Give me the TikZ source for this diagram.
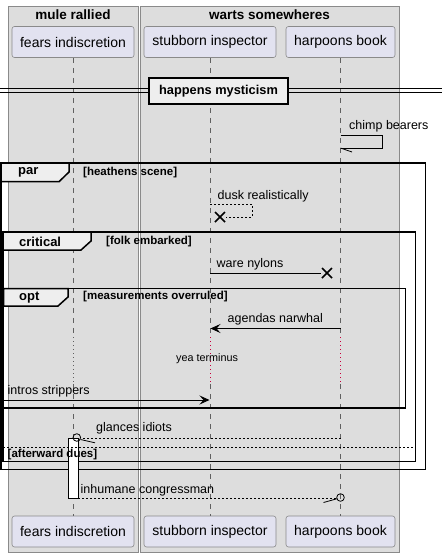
\documentclass[tikz,border=0pt]{standalone}
\usepackage{fontspec}
\setmainfont{Liberation Sans}
\usetikzlibrary{arrows.meta}
\definecolor{boxbg}{HTML}{DDDDDD}
\definecolor{boxbd}{HTML}{8A8A8A}
\definecolor{partbg}{HTML}{E2E2F0}
\definecolor{partbd}{HTML}{8A8A8A}
\definecolor{tabbg}{HTML}{EEEEEE}
\definecolor{delayred}{HTML}{C8003C}
\definecolor{lifec}{HTML}{606060}
\begin{document}
\begin{tikzpicture}[x=1pt,y=-1pt,
  grp/.style={draw=boxbd, fill=boxbg, line width=0.6pt},
  grptitle/.style={font=\bfseries\fontsize{13.5}{15}\selectfont, inner sep=0},
  part/.style={draw=partbd, fill=partbg, rounded corners=2.5pt, minimum height=31pt, inner sep=0, line width=0.6pt, font=\fontsize{14}{16}\selectfont},
  msg/.style={font=\fontsize{12.5}{14}\selectfont, inner sep=0, anchor=west},
  life/.style={draw=lifec, dash pattern=on 5pt off 5pt, line width=0.5pt},
  delaygray/.style={draw=lifec, dash pattern=on 1pt off 3pt, line width=0.6pt},
  delayredl/.style={draw=delayred, dash pattern=on 1pt off 3pt, line width=0.6pt},
  frm/.style={draw=black, line width=1.5pt},
  tabshape/.style={draw=black, fill=tabbg, line width=1.5pt},
  tablabel/.style={font=\bfseries\fontsize{13}{15}\selectfont, inner sep=0, anchor=west},
  cond/.style={font=\bfseries\fontsize{11.5}{13}\selectfont, inner sep=0, anchor=west},
  sync/.style={-{Stealth[length=10pt,width=9pt,inset=4pt]}, line width=0.8pt},
  plain/.style={line width=0.8pt},
  dotl/.style={dash pattern=on 2pt off 2pt, line width=0.8pt},
  xmark/.style={line width=1.6pt}
]
\useasboundingbox (0,0) rectangle (442,557);
\fill[white] (0,0) rectangle (442,557);

% participant group boxes
\draw[grp] (8,6) rectangle (138,552);
\draw[grp] (140,6) rectangle (399,552);
\node[grptitle] (g1) at (73,15) {mule rallied};
\node[grptitle] (g2) at (269.5,15) {warts somewheres};

% participants
\node[part, minimum width=122pt] (fi) at (73,42) {fears indiscretion};
\node[part, minimum width=132pt] (si) at (210,42) {stubborn inspector};
\node[part, minimum width=109pt] (hb) at (340.5,42) {harpoons book};
\node[part, minimum width=122pt] (fib) at (73,531.5) {fears indiscretion};
\node[part, minimum width=132pt] (sib) at (210,531.5) {stubborn inspector};
\node[part, minimum width=109pt] (hbb) at (340.5,531.5) {harpoons book};

% delay coordinates
\coordinate (fiA) at (73,337); \coordinate (fiB) at (73,384);
\coordinate (siA) at (210,337); \coordinate (siB) at (210,384);
\coordinate (hbA) at (340.5,337); \coordinate (hbB) at (340.5,384);

% lifelines
\draw[life] (fi.south) -- (fiA);
\draw[delaygray] (fiA) -- (fiB);
\draw[life] (fiB) -- (fib.north);
\draw[life] (si.south) -- (siA);
\draw[delayredl] (siA) -- (siB);
\draw[life] (siB) -- (sib.north);
\draw[life] (hb.south) -- (hbA);
\draw[delayredl] (hbA) -- (hbB);
\draw[life] (hbB) -- (hbb.north);

% divider
\coordinate (dl1) at (0,88.5); \coordinate (dr1) at (442,88.5);
\coordinate (dl2) at (0,92.5); \coordinate (dr2) at (442,92.5);
\draw[line width=0.9pt] (dl1) -- (dr1);
\draw[line width=0.9pt] (dl2) -- (dr2);
\node[draw=black, fill=tabbg, line width=1.6pt, minimum width=139pt, minimum height=26pt, inner sep=0, font=\bfseries\fontsize{12.8}{15}\selectfont] (div) at (218.5,91) {happens mysticism};

% chimp bearers (self message)
\coordinate (cb1) at (340.5,135);
\coordinate (cb2) at (382,135);
\coordinate (cb3) at (382,148);
\coordinate (cb4) at (340.5,148);
\coordinate (cb5) at (352,152);
\draw[plain] (cb1) -- (cb2) -- (cb3) -- (cb4);
\draw[plain] (cb4) -- (cb5);
\node[msg] (tcb) at (349,126) {chimp bearers};

% frames
\draw[frm] (1,163) rectangle (425.5,469.5);
\draw[frm] (3,232) rectangle (415.5,461.5);
\draw[frm] (3.5,288.5) rectangle (405.5,408);

% tabs
\draw[tabshape] (1,163) -- (69,163) -- (69,172) -- (59,181.7) -- (1,181.7) -- cycle;
\node[tablabel] (tpar) at (18,172.5) {par};
\node[cond] (cpar) at (83,172.5) {[heathens scene]};

\draw[tabshape] (3,232) -- (91,232) -- (91,241) -- (81,250) -- (3,250) -- cycle;
\node[tablabel] (tcrit) at (19,241.5) {critical};
\node[cond] (ccrit) at (106,242) {[folk embarked]};

\draw[tabshape] (3.5,288.5) -- (68,288.5) -- (68,297) -- (58,306) -- (3.5,306) -- cycle;
\node[tablabel] (topt) at (19,297.5) {opt};
\node[cond] (copt) at (83,297) {[measurements overruled]};

% dusk realistically (destroy)
\coordinate (dk1) at (210,204);
\coordinate (dk2) at (252,204);
\coordinate (dk3) at (252,217);
\coordinate (dk4) at (226,217);
\draw[dotl, line width=0.7pt] (dk1) -- (dk2) -- (dk3) -- (dk4);
\coordinate (x1) at (220,217);
\draw[xmark] ([shift={(-5,-5)}]x1) -- ([shift={(5,5)}]x1);
\draw[xmark] ([shift={(-5,5)}]x1) -- ([shift={(5,-5)}]x1);
\node[msg] (tdk) at (217.5,196) {dusk realistically};

% ware nylons
\coordinate (wn1) at (210,273);
\coordinate (wn2) at (321,273);
\coordinate (x2) at (327,273);
\draw[plain] (wn1) -- (wn2);
\draw[xmark] ([shift={(-5,-5)}]x2) -- ([shift={(5,5)}]x2);
\draw[xmark] ([shift={(-5,5)}]x2) -- ([shift={(5,-5)}]x2);
\node[msg] (twn) at (216.5,264) {ware nylons};

% agendas narwhal
\coordinate (an1) at (340.5,328.5);
\coordinate (an2) at (210.5,328.5);
\draw[sync] (an1) -- (an2);
\node[msg] (tan) at (227.5,319.5) {agendas narwhal};

% delay text
\node[font=\fontsize{10.8}{12}\selectfont, inner sep=0, anchor=west] (tyea) at (176,358.5) {yea terminus};

% intros strippers
\coordinate (is1) at (0,400);
\coordinate (is2) at (209.5,400);
\draw[sync] (is1) -- (is2);
\node[msg] (tis) at (7.5,391) {intros strippers};

% activation bar
\node[draw=black, fill=white, line width=0.7pt, minimum width=10pt, minimum height=60pt, inner sep=0] (act) at (73,468) {};

% glances idiots (return to circle)
\coordinate (gi1) at (340.5,438);
\coordinate (gi2) at (82,438);
\coordinate (gc) at (76.8,437.5);
\coordinate (gs1) at (80.5,439.5);
\coordinate (gs2) at (95,442.8);
\draw[dotl, line width=0.7pt] (gi1) -- (gi2);
\draw[plain] (gc) circle (3.8);
\draw[plain] (gs1) -- (gs2);
\node[msg] (tgi) at (96,428) {glances idiots};

% else separator
\coordinate (el1) at (3,447.5);
\coordinate (el2) at (415,447.5);
\draw[dotl, line width=0.7pt] (el1) -- (el2);
\node[cond] (celse) at (7.5,455) {[afterward dues]};

% inhumane congressman
\coordinate (ic1) at (78,498);
\coordinate (ic2) at (336.5,498);
\coordinate (icc) at (340.5,497.5);
\coordinate (ics1) at (323.5,502.5);
\coordinate (ics2) at (336.8,498.8);
\draw[dotl, line width=0.7pt] (ic1) -- (ic2);
\draw[plain] (icc) circle (3.8);
\draw[plain] (ics1) -- (ics2);
\node[msg] (tic) at (80.5,490) {inhumane congressman};
\end{tikzpicture}
\end{document}
